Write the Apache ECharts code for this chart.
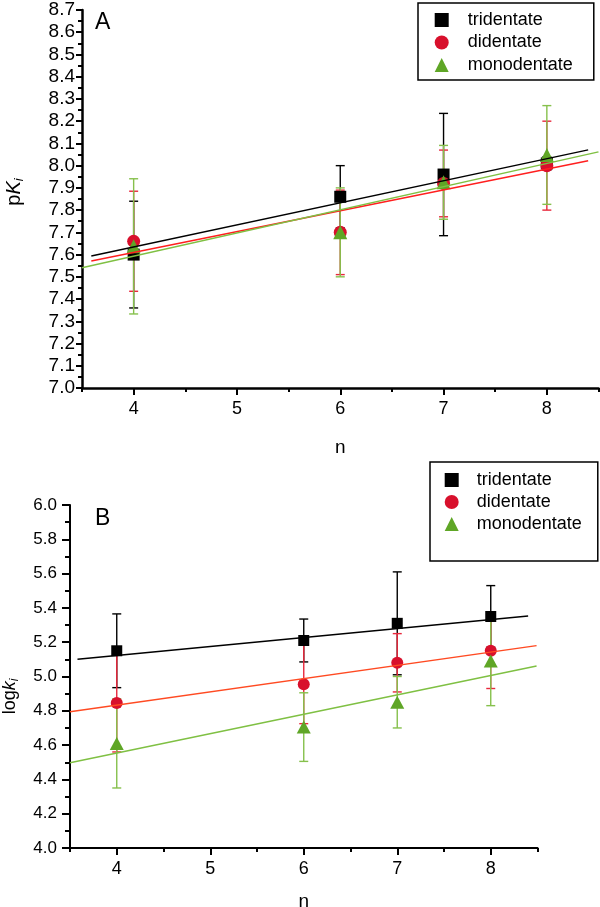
<!DOCTYPE html>
<html>
<head>
<meta charset="utf-8">
<script src="https://cdn.jsdelivr.net/npm/echarts@6/dist/echarts.min.js"></script>
<style>html,body{margin:0;padding:0;background:#fff;}#c{width:600px;height:907px;}</style>
</head>
<body>
<div id="c"></div>
<script>
// ---- data ----
const seriesNames = ['tridentate', 'didentate', 'monodentate'];
const nValues = [4, 6, 7, 8];
const xMajorTicks = [4, 5, 6, 7, 8];
const xMinorTicks = [3.5, 4.5, 5.5, 6.5, 7.5, 8.5];

// Panel A: pKi
const A_tri = [7.60, 7.86, 7.96, 8.01];
const A_tri_err = [0.24, 0.14, 0.275, 0.03];
const A_di = [7.66, 7.70, 7.92, 8.00];
const A_di_err = [0.225, 0.19, 0.15, 0.20];
const A_mono = [7.637, 7.70, 7.925, 8.048];
const A_mono_err = [0.304, 0.20, 0.166, 0.222];
const A_fit_tri = [[3.59, 7.594], [8.40, 8.071]];
const A_fit_di = [[3.59, 7.571], [8.40, 8.022]];
const A_fit_mono = [[3.5, 7.541], [8.5, 8.062]];

// Panel B: log ki
const B_tri = [5.15, 5.21, 5.31, 5.35];
const B_tri_err = [0.215, 0.125, 0.30, 0.18];
const B_di = [4.845, 4.955, 5.08, 5.15];
const B_di_err = [0.285, 0.23, 0.17, 0.22];
const B_mono = [4.61, 4.705, 4.85, 5.09];
const B_mono_err = [0.26, 0.20, 0.15, 0.26];
const B_fit_tri = [[3.58, 5.10], [8.40, 5.353]];
const B_fit_di = [[3.5, 4.795], [8.49, 5.18]];
const B_fit_mono = [[3.5, 4.497], [8.49, 5.061]];

// ---- styles ----
const FONT = "'Liberation Sans', Arial, sans-serif";
const C_BLACK = '#000000';
const C_RED = '#d8102c';
const C_GREEN = '#5fa626';
const C_RED_LINE_A = '#ff1f1f';
const C_RED_LINE_B = '#ff4a22';
const C_GREEN_LINE = '#7fc043';
const C_RED_ERR = '#e8283c';
const C_GREEN_ERR = '#86c04c';

function pts(vals) { return nValues.map((n, i) => [n, vals[i]]); }
function errs(vals, e) { return nValues.map((n, i) => [n, vals[i] - e[i], vals[i] + e[i]]); }

function errRender(color, capW, lw) {
  return function (params, api) {
    const x = api.value(0), lo = api.value(1), hi = api.value(2);
    const a = api.coord([x, lo]), b = api.coord([x, hi]);
    const st = { stroke: color, lineWidth: lw };
    return { type: 'group', children: [
      { type: 'line', shape: { x1: a[0], y1: a[1], x2: b[0], y2: b[1] }, style: st },
      { type: 'line', shape: { x1: a[0] - capW, y1: a[1], x2: a[0] + capW, y2: a[1] }, style: st },
      { type: 'line', shape: { x1: b[0] - capW, y1: b[1], x2: b[0] + capW, y2: b[1] }, style: st }
    ]};
  };
}

function errSeries(name, idx, data, color) {
  return { type: 'custom', name: name, xAxisIndex: idx * 2, yAxisIndex: idx, data: data,
    renderItem: errRender(color, 4.5, 1.4), encode: { x: 0, y: [1, 2] }, z: 2, silent: true };
}
function fitSeries(name, idx, data, color) {
  return { type: 'line', name: name, xAxisIndex: idx * 2, yAxisIndex: idx, data: data,
    symbol: 'none', lineStyle: { color: color, width: 1.5 }, z: 5, silent: true, animation: false };
}
function scatSeries(name, idx, data, color, symbol, size) {
  return { type: 'scatter', name: name, xAxisIndex: idx * 2, yAxisIndex: idx, data: data,
    symbol: symbol, symbolSize: size, itemStyle: { color: color, opacity: 1 }, z: 4 };
}

function xAxes(gridIndex, axisW, labelSize, nameGap) {
  return [
    { type: 'value', gridIndex: gridIndex, min: 3.5, max: 8.5, position: 'bottom',
      name: 'n', nameLocation: 'middle', nameGap: nameGap,
      nameTextStyle: { fontFamily: FONT, fontSize: 19, color: '#000' },
      axisLine: { show: true, onZero: false, lineStyle: { color: '#000', width: axisW } },
      axisTick: { show: true, inside: false, length: 7, customValues: xMajorTicks, lineStyle: { color: '#000', width: 2 } },
      axisLabel: { customValues: xMajorTicks, margin: 12, fontFamily: FONT, fontSize: labelSize, color: '#000', formatter: v => String(Math.round(v)) },
      splitLine: { show: false } },
    { type: 'value', gridIndex: gridIndex, min: 3.5, max: 8.5, position: 'bottom',
      axisLine: { show: false, onZero: false },
      axisTick: { show: true, inside: false, length: 4, customValues: xMinorTicks, lineStyle: { color: '#000', width: 2 } },
      axisLabel: { show: false }, splitLine: { show: false } }
  ];
}

const chart = echarts.init(document.getElementById('c'), null, { renderer: 'canvas' });
const option = {
  animation: false,
  backgroundColor: '#ffffff',
  grid: [
    { left: 82, top: 10, width: 516.5, height: 378, containLabel: false, outerBoundsMode: 'none' },
    { left: 70, top: 505, width: 467.5, height: 343, containLabel: false, outerBoundsMode: 'none' }
  ],
  xAxis: [].concat(xAxes(0, 2.5, 18, 50), xAxes(1, 2, 18, 44)),
  yAxis: [
    { type: 'value', gridIndex: 0, min: 7.0, max: 8.7, interval: 0.1,
      name: '{n|p}{i|K}{s|i}', nameLocation: 'middle', nameGap: 56,
      nameTextStyle: { fontFamily: FONT, color: '#000', padding: [0, 0, 0, 14],
        rich: { n: { fontSize: 20, fontFamily: FONT, lineHeight: 24 },
                i: { fontSize: 20, fontFamily: FONT, fontStyle: 'italic', lineHeight: 24 },
                s: { fontSize: 13, fontFamily: FONT, fontStyle: 'italic', lineHeight: 24, padding: [10, 0, 0, 0] } } },
      axisLine: { show: true, onZero: false, lineStyle: { color: '#000', width: 2.5 } },
      axisTick: { show: true, inside: false, length: 6, lineStyle: { color: '#000', width: 2 } },
      minorTick: { show: true, splitNumber: 2, length: 4, lineStyle: { color: '#000', width: 2 } },
      axisLabel: { margin: 7, fontFamily: FONT, fontSize: 19, color: '#000', formatter: v => v.toFixed(1) },
      splitLine: { show: false }, minorSplitLine: { show: false } },
    { type: 'value', gridIndex: 1, min: 4.0, max: 6.0, interval: 0.2,
      name: '{n|log}{i|k}{s|i}', nameLocation: 'middle', nameGap: 49,
      nameTextStyle: { fontFamily: FONT, color: '#000', padding: [0, 40, 0, 0],
        rich: { n: { fontSize: 18, fontFamily: FONT, lineHeight: 22 },
                i: { fontSize: 18, fontFamily: FONT, fontStyle: 'italic', lineHeight: 22 },
                s: { fontSize: 12, fontFamily: FONT, fontStyle: 'italic', lineHeight: 22, padding: [9, 0, 0, 0] } } },
      axisLine: { show: true, onZero: false, lineStyle: { color: '#000', width: 2 } },
      axisTick: { show: true, inside: false, length: 8, lineStyle: { color: '#000', width: 2 } },
      minorTick: { show: true, splitNumber: 2, length: 5, lineStyle: { color: '#000', width: 2 } },
      axisLabel: { margin: 13, fontFamily: FONT, fontSize: 17, color: '#000', formatter: v => v.toFixed(1) },
      splitLine: { show: false }, minorSplitLine: { show: false } }
  ],
  legend: [
    { left: 418, top: 3, orient: 'vertical', data: seriesNames,
      itemWidth: 14, itemHeight: 14, itemGap: 4.5,
      padding: [8, 21, 6, 16.7], borderColor: '#000', borderWidth: 1.5,
      formatter: '{t|{name}}',
      textStyle: { fontFamily: FONT, fontSize: 18, color: '#000',
        rich: { t: { fontFamily: FONT, fontSize: 18, lineHeight: 18, padding: [0, 0, 0, 14] } } } },
    { left: 430, top: 462, orient: 'vertical', data: seriesNames,
      itemWidth: 14, itemHeight: 14, itemGap: 4,
      padding: [9, 16, 28, 14.7], borderColor: '#000', borderWidth: 1.5,
      formatter: '{t|{name}}',
      textStyle: { fontFamily: FONT, fontSize: 18, color: '#000',
        rich: { t: { fontFamily: FONT, fontSize: 18, lineHeight: 18, padding: [0, 0, 0, 13] } } } }
  ],
  graphic: [
    { type: 'text', left: 95, top: 11, style: { text: 'A', font: "23px 'Liberation Sans', Arial", fill: '#000' } },
    { type: 'text', left: 95, top: 507, style: { text: 'B', font: "23px 'Liberation Sans', Arial", fill: '#000' } }
  ],
  series: [
    // Panel A
    errSeries('errA_tri', 0, errs(A_tri, A_tri_err), C_BLACK),
    errSeries('errA_di', 0, errs(A_di, A_di_err), C_RED_ERR),
    errSeries('errA_mono', 0, errs(A_mono, A_mono_err), C_GREEN_ERR),
    scatSeries('tridentate', 0, pts(A_tri), C_BLACK, 'rect', 12),
    scatSeries('didentate', 0, pts(A_di), C_RED, 'circle', 13),
    scatSeries('monodentate', 0, pts(A_mono), C_GREEN, 'triangle', 14),
    fitSeries('fitA_tri', 0, A_fit_tri, C_BLACK),
    fitSeries('fitA_di', 0, A_fit_di, C_RED_LINE_A),
    fitSeries('fitA_mono', 0, A_fit_mono, C_GREEN_LINE),
    // Panel B
    errSeries('errB_tri', 1, errs(B_tri, B_tri_err), C_BLACK),
    errSeries('errB_di', 1, errs(B_di, B_di_err), C_RED_ERR),
    errSeries('errB_mono', 1, errs(B_mono, B_mono_err), C_GREEN_ERR),
    scatSeries('tridentate', 1, pts(B_tri), C_BLACK, 'rect', 11),
    scatSeries('didentate', 1, pts(B_di), C_RED, 'circle', 12),
    scatSeries('monodentate', 1, pts(B_mono), C_GREEN, 'triangle', [14, 13]),
    fitSeries('fitB_tri', 1, B_fit_tri, C_BLACK),
    fitSeries('fitB_di', 1, B_fit_di, C_RED_LINE_B),
    fitSeries('fitB_mono', 1, B_fit_mono, C_GREEN_LINE)
  ]
};
chart.setOption(option);
</script>
</body>
</html>
